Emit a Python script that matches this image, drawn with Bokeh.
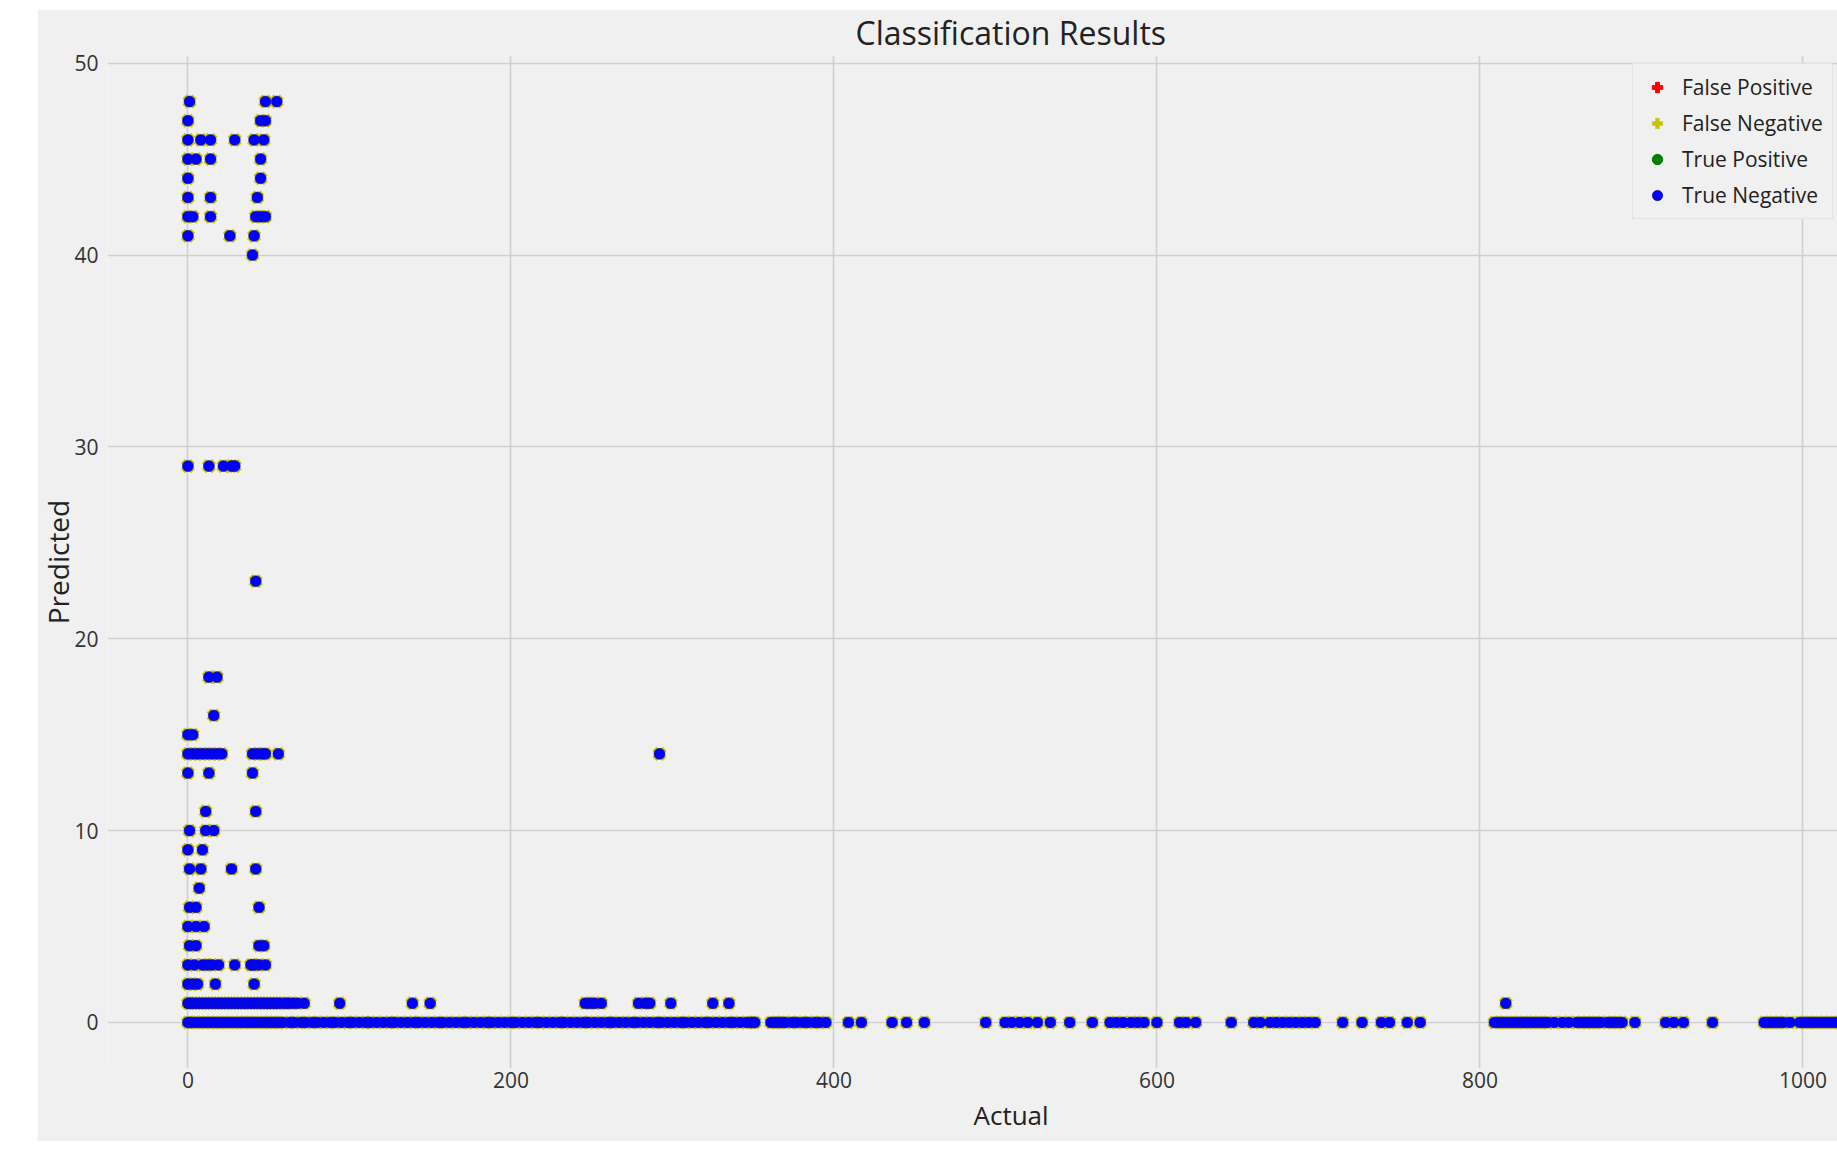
import math
from bokeh.plotting import figure
from bokeh.models import ColumnDataSource, Range1d, FixedTicker, Legend, LegendItem, Title
from bokeh.embed import file_html
from bokeh.resources import INLINE

FONT = "Open Sans"

x_ticks = [0, 200, 400, 600, 800, 1000]
y_ticks = [0, 10, 20, 30, 40, 50]

# "Actual" values of the True Negative points, one list per "Predicted" value
pred_levels = [48, 47, 46, 45, 44, 43, 42, 41, 40, 29, 23, 18, 16, 15, 14, 13,
               11, 10, 9, 8, 7, 6, 5, 4, 3, 2, 1, 0]

actual_p48 = [1, 48, 55]
actual_p47 = [0, 45, 48]
actual_p46 = [0, 8, 14, 29, 41, 47]
actual_p45 = [0, 5, 14, 45]
actual_p44 = [0, 45]
actual_p43 = [0, 14, 43]
actual_p42 = [0, 3, 14, 42, 45, 48]
actual_p41 = [0, 26, 41]
actual_p40 = [40]
actual_p29 = [0, 13, 22, 27, 29]
actual_p23 = [42]
actual_p18 = [13, 18]
actual_p16 = [16]
actual_p15 = [0, 3]
actual_p14 = [0, 3, 6, 9, 12, 15, 18, 21, 40, 43, 46, 48, 56, 292]
actual_p13 = [0, 13, 40]
actual_p11 = [11, 42]
actual_p10 = [1, 11, 16]
actual_p9 = [0, 9]
actual_p8 = [1, 8, 27, 42]
actual_p7 = [7]
actual_p6 = [1, 5, 44]
actual_p5 = [0, 5, 10]
actual_p4 = [1, 5, 44, 47]
actual_p3 = [0, 4, 9, 12, 15, 19, 29, 39, 41, 44, 48]
actual_p2 = [0, 3, 6, 17, 41]
actual_p1 = [0, 1, 3, 5, 7, 9, 11, 13, 15, 17, 19, 21, 23, 25, 27, 29, 31, 33,
             35, 37, 39, 41, 43, 45, 47, 49, 51, 53, 55, 57, 60, 62, 65, 68, 72,
             94, 139, 150, 246, 249, 252, 256, 279, 283, 286, 299, 325, 335, 816]
actual_p0 = [0, 2, 5, 8, 11, 14, 17, 20, 23, 26, 29, 32, 35, 38, 41, 44, 47, 50,
             53, 56, 59, 63, 66, 70, 73, 77, 80, 84, 88, 91, 95, 99, 102, 106,
             110, 113, 117, 121, 125, 128, 132, 136, 140, 143, 147, 151, 155,
             158, 162, 166, 170, 173, 177, 181, 185, 188, 192, 196, 200, 203,
             207, 211, 215, 218, 222, 226, 230, 233, 237, 241, 245, 248, 252,
             256, 260, 263, 267, 271, 275, 278, 282, 286, 290, 293, 297, 301,
             305, 308, 312, 316, 320, 323, 327, 331, 335, 338, 342, 346, 349,
             351, 361, 364, 367, 370, 374, 377, 381, 384, 388, 391, 395, 409,
             417, 436, 445, 456, 494, 506, 510, 515, 520, 526, 534, 546, 560,
             571, 575, 579, 584, 588, 592, 600, 614, 618, 624, 646, 660, 664,
             670, 674, 678, 682, 686, 690, 694, 698, 715, 727, 739, 744, 755,
             763, 809, 812, 815, 818, 821, 824, 827, 830, 833, 836, 839, 842,
             846, 851, 855, 860, 863, 866, 869, 872, 875, 879, 882, 885, 888,
             896, 915, 920, 926, 944, 976, 979, 982, 985, 988, 992, 998, 1001,
             1004, 1007, 1010, 1013, 1016, 1019, 1022]

actual_rows = [actual_p48, actual_p47, actual_p46, actual_p45, actual_p44,
               actual_p43, actual_p42, actual_p41, actual_p40, actual_p29,
               actual_p23, actual_p18, actual_p16, actual_p15, actual_p14,
               actual_p13, actual_p11, actual_p10, actual_p9, actual_p8,
               actual_p7, actual_p6, actual_p5, actual_p4, actual_p3,
               actual_p2, actual_p1, actual_p0]

# the few False Positive / True Positive points lie hidden beneath others
fp_actual = [252]
fp_predicted = [0]
tp_actual = [248]
tp_predicted = [0]

xs, ys = [], []
for level, row in zip(pred_levels, actual_rows):
    for a in row:
        xs.append(a)
        ys.append(level)

src_points = ColumnDataSource(dict(x=xs, y=ys))
src_fp = ColumnDataSource(dict(x=fp_actual, y=fp_predicted))
src_tp = ColumnDataSource(dict(x=tp_actual, y=tp_predicted))

p = figure(width=1800, height=1132,
           x_range=Range1d(-49.8, 1021.4), y_range=Range1d(-2.4, 50.4),
           output_backend="svg", toolbar_location=None,
           min_border_left=70, min_border_right=0,
           min_border_top=46, min_border_bottom=72,
           background_fill_color="#f0f0f0", border_fill_color="#f0f0f0")
p.margin = (9, 0, 0, 37)
p.outline_line_color = None

# title
p.title.text = "Classification Results"
p.title.align = "left"
p.title.offset = 748
p.title.standoff = 0
p.title.vertical_align = "top"
p.title.text_font = FONT
p.title.text_font_size = "32px"
p.title.text_font_style = "normal"
p.title.text_color = "#222222"

# grid
for g in (p.xgrid, p.ygrid):
    g.grid_line_color = "#d0d0d0"
    g.grid_line_width = 1.6
p.xgrid.ticker = FixedTicker(ticks=x_ticks)
p.ygrid.ticker = FixedTicker(ticks=y_ticks)

# axes
p.xaxis.ticker = FixedTicker(ticks=x_ticks)
p.yaxis.ticker = FixedTicker(ticks=y_ticks)
for ax in (p.xaxis, p.yaxis):
    ax.axis_line_color = None
    ax.major_tick_line_color = None
    ax.minor_tick_line_color = None
    ax.major_tick_out = 0
    ax.major_tick_in = 0
    ax.major_label_text_font = FONT
    ax.major_label_text_font_size = "21px"
    ax.major_label_text_color = "#333333"
p.xaxis.major_label_standoff = 3
p.yaxis.major_label_standoff = 9

# axis titles, placed where the reference has them
x_title = Title(text="Actual", align="left", offset=866, vertical_align="top",
                standoff=13, text_font=FONT, text_font_size="26px",
                text_font_style="normal", text_color="#222222",
                text_line_height=0.25)
p.add_layout(x_title, "below")

y_title = Title(text="Predicted", align="center", vertical_align="top",
                standoff=-14, text_font=FONT, text_font_size="28px",
                text_font_style="normal", text_color="#222222",
                text_line_height=0.25)
p.add_layout(y_title, "left")

# glyphs (matplotlib-like draw order)
r_fp = p.scatter("x", "y", source=src_fp, marker="plus", angle=math.pi / 4,
                 size=12, fill_color="#ff0000", line_color="#ff0000")
r_fn = p.scatter("x", "y", source=src_points, marker="plus", angle=math.pi / 4,
                 size=14, fill_color="#c8c400", line_color="#c8c400", line_width=0.5)
r_tp = p.scatter("x", "y", source=src_tp, marker="circle",
                 size=9, fill_color="#008000", line_color="#008000")
r_tn = p.scatter("x", "y", source=src_points, marker="circle",
                 size=11, fill_color="#0000ff", line_color="#10108a", line_width=0.6)

legend = Legend(items=[
    LegendItem(label="False Positive", renderers=[r_fp]),
    LegendItem(label="False Negative", renderers=[r_fn]),
    LegendItem(label="True Positive", renderers=[r_tp]),
    LegendItem(label="True Negative", renderers=[r_tn]),
], location=(1525, 849))
legend.label_text_font = FONT
legend.label_text_font_size = "21px"
legend.label_text_color = "#222222"
legend.glyph_width = 30
legend.glyph_height = 26
legend.label_height = 26
legend.spacing = 8
legend.padding = 9
legend.label_standoff = 10
legend.background_fill_color = "#f0f0f0"
legend.background_fill_alpha = 1.0
legend.border_line_color = "#d6d6d6"
legend.border_line_width = 1
p.add_layout(legend, "center")

open("out.html", "w").write(file_html(p, INLINE))
